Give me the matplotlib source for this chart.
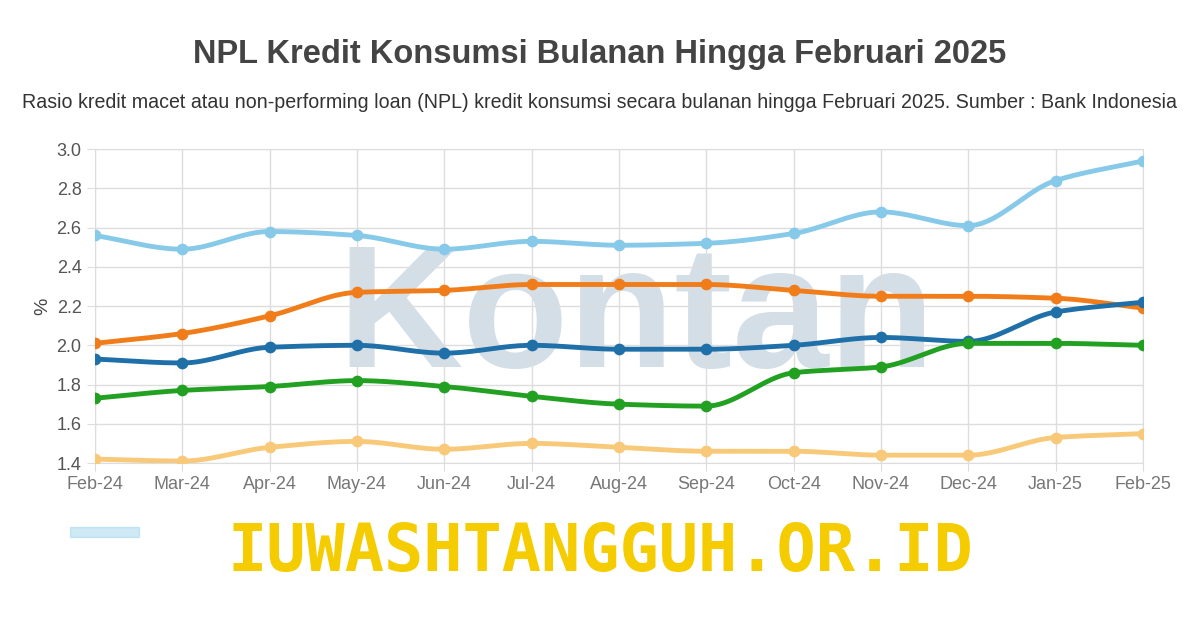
import numpy as np
import matplotlib
matplotlib.use("Agg")
import matplotlib.pyplot as plt

plt.rcParams['font.family'] = ['Liberation Sans', 'DejaVu Sans']

months = ["Feb-24","Mar-24","Apr-24","May-24","Jun-24","Jul-24","Aug-24","Sep-24","Oct-24","Nov-24","Dec-24","Jan-25","Feb-25"]
npl_total = [2.56,2.49,2.58,2.56,2.49,2.53,2.51,2.52,2.57,2.68,2.61,2.84,2.94]
series_orange = [2.01,2.06,2.15,2.27,2.28,2.31,2.31,2.31,2.28,2.25,2.25,2.24,2.19]
series_blue = [1.93,1.91,1.99,2.00,1.96,2.00,1.98,1.98,2.00,2.04,2.02,2.17,2.22]
series_green = [1.73,1.77,1.79,1.82,1.79,1.74,1.70,1.69,1.86,1.89,2.01,2.01,2.00]
series_light = [1.42,1.41,1.48,1.51,1.47,1.50,1.48,1.46,1.46,1.44,1.44,1.53,1.55]

def smooth(y, n=20):
    y = np.asarray(y, float); x = np.arange(len(y))
    d = np.diff(y); m = np.zeros_like(y)
    for i in range(1, len(y)-1):
        if d[i-1]*d[i] > 0:
            m[i] = 2/(1/d[i-1]+1/d[i])
    m[0] = d[0]; m[-1] = d[-1]
    xs, ys = [], []
    for i in range(len(y)-1):
        t = np.linspace(0, 1, n, endpoint=False)
        h00 = 2*t**3-3*t**2+1; h10 = t**3-2*t**2+t; h01 = -2*t**3+3*t**2; h11 = t**3-t**2
        xs.append(x[i]+t); ys.append(h00*y[i]+h10*m[i]+h01*y[i+1]+h11*m[i+1])
    xs.append([x[-1]]); ys.append([y[-1]])
    return np.concatenate(xs), np.concatenate(ys)

fig = plt.figure(figsize=(12, 6.24), dpi=100)
ax = fig.add_axes([0.079, 0.258, 0.8735, 0.503])
x = np.arange(len(months))
ax.text(6.2, 2.12, "Kontan", fontsize=125, color="#d4dee6", ha="center", va="center", zorder=0, fontweight="bold")
styles = [(npl_total, "#87c9e8"), (series_orange, "#f07d1a"), (series_blue, "#1f6fa8"),
          (series_green, "#22a022"), (series_light, "#f8c978")]
for vals, c in styles:
    xs, ys = smooth(vals)
    ax.plot(xs, ys, color=c, lw=3.5, zorder=3)
    ax.scatter(x, vals, color=c, s=55, zorder=4)
ax.set_xlim(0, 12); ax.set_ylim(1.4, 3.0)
ax.set_yticks(np.arange(1.4, 3.01, 0.2))
ax.set_yticklabels([f"{v:.1f}" for v in np.arange(1.4, 3.01, 0.2)], fontsize=13, color="#555")
ax.set_xticks(x); ax.set_xticklabels(months, fontsize=13, color="#777")
ax.grid(True, color="#dddddd", lw=1)
for s in ax.spines.values(): s.set_color("#dddddd")
ax.tick_params(length=6, color="#dddddd")
ax.set_ylabel("%", fontsize=14, color="#444")
fig.text(0.5, 0.912, "NPL Kredit Konsumsi Bulanan Hingga Februari 2025", ha="center", va="center", fontsize=23.5, fontweight="bold", color="#444")
fig.text(0.5, 0.835, "Rasio kredit macet atau non-performing loan (NPL) kredit konsumsi secara bulanan hingga Februari 2025. Sumber : Bank Indonesia", ha="center", va="center", fontsize=14.1, color="#333")
fig.patches.append(plt.Rectangle((0.058, 0.14), 0.058, 0.016, transform=fig.transFigure, color="#87c9e8", alpha=0.4))
fig.text(0.5, 0.113, "IUWASHTANGGUH.OR.ID", ha="center", va="center", fontsize=47, fontweight="bold", color="#f5cc00", family="DejaVu Sans Mono")
fig.savefig("out.png", dpi=100, facecolor="white")
